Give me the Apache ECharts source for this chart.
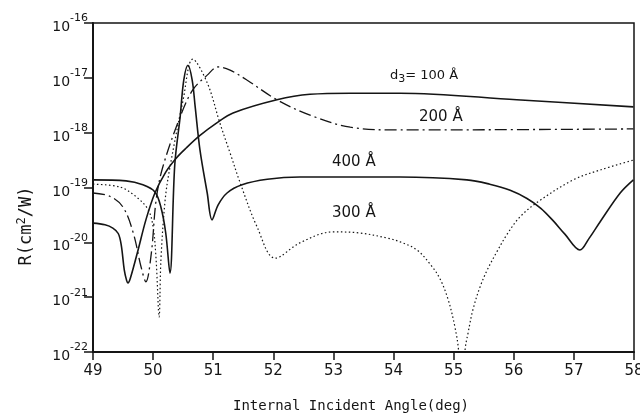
<!DOCTYPE html>
<html>
<head>
<meta charset="utf-8">
<script src="https://cdn.jsdelivr.net/npm/echarts@6/dist/echarts.min.js"></script>
<style>
  html, body { margin: 0; padding: 0; background: #fff; }
  #chart { width: 640px; height: 417px; }
</style>
</head>
<body>
<div id="chart"></div>
<script>
  // angles (deg) and R (cm^2/W), one pair of arrays per film thickness
  const angle100 = [49.00, 49.20, 49.33, 49.42, 49.47, 49.52, 49.56, 49.58, 49.62, 49.75, 49.88, 50.03, 50.21, 50.38, 50.55, 50.78, 51.06, 51.33, 52.06, 52.61, 53.28, 54.11, 56.05, 57.99];
  const r100 = [2.24e-20, 2.09e-20, 1.82e-20, 1.45e-20, 8.91e-21, 3.16e-21, 2.00e-21, 1.82e-21, 2.19e-21, 7.24e-21, 2.57e-20, 7.94e-20, 1.91e-19, 3.39e-19, 5.25e-19, 8.91e-19, 1.51e-18, 2.29e-18, 3.98e-18, 5.01e-18, 5.25e-18, 5.25e-18, 3.98e-18, 2.95e-18];

  const angle200 = [49.00, 49.28, 49.50, 49.67, 49.80, 49.88, 49.97, 50.05, 50.16, 50.45, 50.66, 50.90, 51.08, 51.28, 51.56, 52.06, 52.61, 53.28, 54.11, 57.99];
  const r200 = [7.94e-20, 6.92e-20, 4.37e-20, 1.48e-20, 3.55e-21, 1.91e-21, 6.31e-21, 5.89e-20, 2.34e-19, 1.95e-18, 6.03e-18, 1.12e-17, 1.58e-17, 1.38e-17, 9.12e-18, 3.98e-18, 2.09e-18, 1.26e-18, 1.12e-18, 1.17e-18];

  const angle300 = [49.00, 49.45, 49.72, 49.92, 50.00, 50.05, 50.10, 50.13, 50.20, 50.28, 50.50, 50.66, 50.90, 51.11, 51.28, 51.45, 51.73, 52.03, 52.44, 52.99, 53.44, 53.89, 54.11, 54.39, 54.61, 54.77, 54.91, 55.02, 55.08, 55.13, 55.19, 55.24, 55.32, 55.44, 55.56, 55.72, 55.89, 56.10, 56.39, 56.99, 57.44, 57.99];
  const r300 = [1.15e-19, 1.02e-19, 6.76e-20, 3.89e-20, 1.91e-20, 4.79e-21, 4.37e-22, 4.79e-21, 5.89e-20, 2.34e-19, 3.98e-18, 2.19e-17, 8.13e-18, 1.51e-18, 4.27e-19, 1.20e-19, 1.91e-20, 5.13e-21, 9.77e-21, 1.55e-20, 1.48e-20, 1.20e-20, 1.02e-20, 7.24e-21, 3.98e-21, 2.19e-21, 8.91e-22, 2.88e-22, 1.10e-22, 1.0e-23, 1.10e-22, 2.24e-22, 5.89e-22, 1.55e-21, 3.16e-21, 6.76e-21, 1.41e-20, 2.88e-20, 5.37e-20, 1.38e-19, 2.09e-19, 3.16e-19];

  const angle400 = [49.00, 49.55, 49.83, 50.03, 50.13, 50.21, 50.28, 50.36, 50.45, 50.51, 50.58, 50.65, 50.70, 50.78, 50.90, 50.98, 51.08, 51.23, 51.48, 51.90, 52.44, 54.11, 55.22, 55.60, 55.94, 56.22, 56.45, 56.65, 56.85, 57.10, 57.25, 57.44, 57.77, 57.99];
  const r400 = [1.38e-19, 1.32e-19, 1.12e-19, 8.32e-20, 4.37e-20, 1.48e-20, 2.75e-21, 2.57e-19, 1.95e-18, 9.12e-18, 1.70e-17, 9.12e-18, 2.95e-18, 4.79e-19, 7.94e-20, 2.57e-20, 4.79e-20, 7.94e-20, 1.12e-19, 1.41e-19, 1.55e-19, 1.55e-19, 1.38e-19, 1.15e-19, 8.91e-20, 6.31e-20, 4.17e-20, 2.51e-20, 1.41e-20, 7.24e-21, 1.17e-20, 2.40e-20, 7.94e-20, 1.38e-19];

  const xTicks = [49, 58, 1];      // min, max, step
  const yDecades = [-22, -16, 1];  // exponents of the y axis

  // echarts' log axis rounds values this small down to 0, so the y axis
  // is a plain value axis over log10(R) with 10^n labels
  function pairs(xs, ys) {
    return xs.map((x, i) => [x, Math.log10(ys[i])]);
  }

  const ink = '#151515';

  const option = {
    animation: false,
    backgroundColor: '#fff',
    grid: {
      left: 93, right: 6, top: 23, bottom: 65,
      outerBoundsMode: 'none',
      show: true, borderColor: ink, borderWidth: 1.5
    },
    xAxis: {
      type: 'value',
      min: xTicks[0], max: xTicks[1], interval: xTicks[2],
      name: 'Internal Incident Angle(deg)',
      nameLocation: 'middle',
      nameGap: 47,
      nameTextStyle: { color: ink, fontFamily: 'DejaVu Sans Mono', fontSize: 14, padding: [0, 25, 0, 0] },
      axisLine: { lineStyle: { color: ink, width: 2 } },
      axisTick: { inside: false, length: 8, lineStyle: { color: ink, width: 1.5 } },
      axisLabel: { color: ink, fontFamily: 'DejaVu Sans', fontSize: 15, margin: 12 },
      splitLine: { show: false }
    },
    yAxis: {
      type: 'value',
      min: yDecades[0], max: yDecades[1], interval: yDecades[2],
      axisLine: { show: true, lineStyle: { color: ink, width: 2 } },
      axisTick: { show: true, length: 9, lineStyle: { color: ink, width: 1.5 } },
      axisLabel: {
        color: ink,
        margin: 5,
        formatter: function (v) {
          return '{b|10}{e|' + v + '}';
        },
        rich: {
          b: { fontFamily: 'DejaVu Sans', fontSize: 14, color: ink, padding: [9, 0, 0, 0] },
          e: { fontFamily: 'DejaVu Sans', fontSize: 11, color: ink, padding: [0, 0, 9, 0] }
        }
      },
      splitLine: { show: false }
    },
    series: [
      {
        name: '100', type: 'line', data: pairs(angle100, r100),
        showSymbol: false, smooth: 0.35,
        lineStyle: { color: ink, width: 1.6 }
      },
      {
        name: '200', type: 'line', data: pairs(angle200, r200),
        showSymbol: false, smooth: 0.35,
        lineStyle: { color: ink, width: 1.3, type: [12, 4, 2, 4] }
      },
      {
        name: '300', type: 'line', data: pairs(angle300, r300),
        showSymbol: false, smooth: 0.35,
        lineStyle: { color: ink, width: 1.2, type: [1.5, 2.5] }
      },
      {
        name: '400', type: 'line', data: pairs(angle400, r400),
        showSymbol: false, smooth: 0.35,
        lineStyle: { color: ink, width: 1.6 }
      }
    ],
    graphic: [
      {
        type: 'text', left: 390, top: 69,
        style: {
          text: '{t|d}{s|3}{t|= 100 Å}',
          rich: {
            t: { fontFamily: 'DejaVu Sans', fontSize: 13, fill: ink },
            s: { fontFamily: 'DejaVu Sans', fontSize: 11, fill: ink, padding: [8, 0, 0, 0] }
          }
        }
      },
      { type: 'text', left: 419, top: 110, style: { text: '200 Å', font: '15px "DejaVu Sans"', fill: ink } },
      { type: 'text', left: 332, top: 155, style: { text: '400 Å', font: '15px "DejaVu Sans"', fill: ink } },
      { type: 'text', left: 332, top: 206, style: { text: '300 Å', font: '15px "DejaVu Sans"', fill: ink } },
      {
        type: 'text', x: 27, y: 226, rotation: Math.PI / 2,
        style: {
          text: 'R(cm{s|2}/W)',
          align: 'center', verticalAlign: 'middle',
          font: '17px "DejaVu Sans Mono"', fill: ink,
          rich: { s: { fontFamily: 'DejaVu Sans Mono', fontSize: 12, fill: ink, padding: [0, 0, 10, 0] } }
        }
      }
    ]
  };

  const chartObj = echarts.init(document.getElementById('chart'));
  chartObj.setOption(option);
</script>
</body>
</html>
